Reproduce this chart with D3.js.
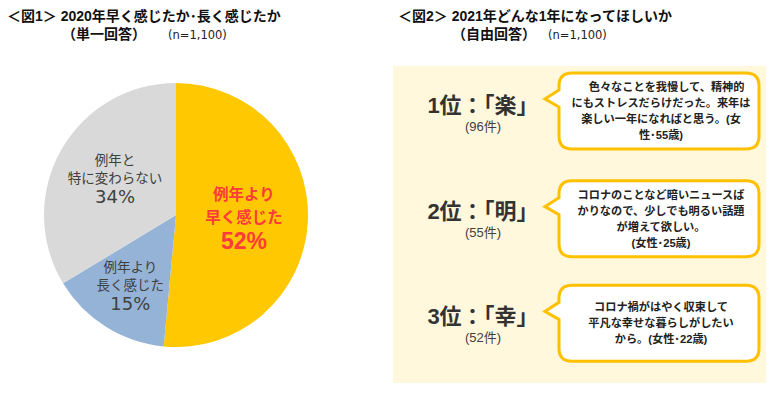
<!DOCTYPE html>
<html>
<head>
<meta charset="utf-8">
<script src="https://cdn.jsdelivr.net/npm/d3@7"></script>
<style>
  body { margin: 0; background: #fff; }
  svg { display: block; font-family: "Liberation Sans", "Noto Sans CJK JP", sans-serif; }
</style>
</head>
<body>
<div id="mainContainer"></div>
<script>
const pieLabels = [['例年より', '早く感じた'], ['例年より', '長く感じた'], ['例年と', '特に変わらない']];
const pieValues = [52, 15, 34];
const pieColors = ['#FFC800', '#95B3D7', '#D9D9D9'];

const rankTitles = ['1位：「楽」', '2位：「明」', '3位：「幸」'];
const rankCounts = [96, 55, 52];
const comments = [
  ['\u3000色々なことを我慢して、精神的', 'にもストレスだらけだった。来年は', '楽しい一年になればと思う。(女', '性･55歳)'],
  ['コロナのことなど暗いニュースば', 'かりなので、少しでも明るい話題', 'が増えて欲しい。', '(女性･25歳)'],
  ['コロナ禍がはやく収束して', '平凡な幸せな暮らしがしたい', 'から。(女性･22歳)']
];

const width = 780;
const height = 399;

const svg = d3.select('#mainContainer')
  .append('svg')
  .attr('width', width)
  .attr('height', height);

// titles
function title(x, line1, x2, line2, xn) {
  svg.append('text').attr('x', x).attr('y', 21)
    .attr('font-size', 14).attr('font-weight', 'bold').attr('fill', '#111')
    .text(line1);
  svg.append('text').attr('x', x2).attr('y', 39)
    .attr('font-size', 14).attr('font-weight', 'bold').attr('fill', '#111')
    .text(line2);
  svg.append('text').attr('x', xn).attr('y', 39)
    .attr('font-size', 11.5).attr('fill', '#222')
    .attr('font-family', 'DejaVu Sans')
    .text('(n=1,100)');
}
title(7, '＜図1＞ 2020年早く感じたか･長く感じたか', 62, '（単一回答）', 168);
title(398, '＜図2＞ 2021年どんな1年になってほしいか', 452, '（自由回答）', 548);

// PIE
const cx = 176, cy = 215, r = 132;
const pie = d3.pie().sort(null).value(d => d);
const arc = d3.arc().innerRadius(0).outerRadius(r);
const arcs = pie(pieValues);

const g = svg.append('g').attr('transform', `translate(${cx},${cy})`);
g.selectAll('path')
  .data(arcs)
  .join('path')
    .attr('d', arc)
    .attr('fill', (d, i) => pieColors[i]);

const labelR = [68, 86, 70];
arcs.forEach((d, i) => {
  const c = d3.arc().innerRadius(labelR[i]).outerRadius(labelR[i]).centroid(d);
  const big = i === 0;
  const t = g.append('text')
    .attr('text-anchor', 'middle')
    .attr('fill', big ? '#FF3B3B' : '#404040')
    .attr('font-weight', big ? 'bold' : 'normal');
  const lines = pieLabels[i];
  const fs = big ? 15.5 : 13.5;
  const lh = big ? 23 : 18;
  const y0 = c[1] - (big ? 18 : 16);
  lines.forEach((ln, j) => {
    t.append('tspan').attr('x', c[0]).attr('y', y0 + j * lh)
      .attr('font-size', fs).text(ln);
  });
  t.append('tspan').attr('x', c[0]).attr('y', y0 + lines.length * lh + (big ? 3 : 2))
    .attr('font-size', big ? 23 : 18)
    .attr('font-family', big ? 'Liberation Sans' : 'DejaVu Sans')
    .attr('font-weight', big ? 'bold' : 'normal')
    .text(pieValues[i] + '%');
});

// RIGHT PANEL
svg.append('rect')
  .attr('x', 393).attr('y', 66).attr('width', 373).attr('height', 317)
  .attr('fill', '#FFF8DC');

const row = d3.scaleBand()
  .domain(d3.range(rankTitles.length))
  .range([66, 383]);

function bubble(x0, y0, x1, y1, tipX, tipY) {
  const rr = 13;
  const p = d3.path();
  p.moveTo(x0 + rr, y0);
  p.lineTo(x1 - rr, y0);
  p.quadraticCurveTo(x1, y0, x1, y0 + rr);
  p.lineTo(x1, y1 - rr);
  p.quadraticCurveTo(x1, y1, x1 - rr, y1);
  p.lineTo(x0 + rr, y1);
  p.quadraticCurveTo(x0, y1, x0, y1 - rr);
  p.lineTo(x0, tipY + 8);
  p.lineTo(tipX, tipY);
  p.lineTo(x0, tipY - 9);
  p.lineTo(x0, y0 + rr);
  p.quadraticCurveTo(x0, y0, x0 + rr, y0);
  p.closePath();
  return p.toString();
}

rankTitles.forEach((t, i) => {
  const top = row(i);
  svg.append('text')
    .attr('x', 483).attr('y', top + 47)
    .attr('text-anchor', 'middle')
    .attr('font-size', 22).attr('font-weight', 'bold').attr('fill', '#333')
    .text(t);
  svg.append('text')
    .attr('x', 483).attr('y', top + 65)
    .attr('text-anchor', 'middle')
    .attr('font-size', 13).attr('fill', '#404040')
    .text(`(${rankCounts[i]}件)`);

  const by0 = top + 7 + (i === 2 ? 1 : 0) + (i === 1 ? 2 : 0);
  const by1 = by0 + 76;
  svg.append('path')
    .attr('d', bubble(559, by0, 759, by1, 545, by0 + 26))
    .attr('fill', '#fff')
    .attr('stroke', '#FFC000')
    .attr('stroke-width', 3);

  const lines = comments[i];
  const lh = 16;
  const mid = (by0 + by1) / 2;
  const start = mid - (lines.length - 1) * lh / 2 + 4;
  const tx = svg.append('text')
    .attr('text-anchor', 'middle')
    .attr('font-size', 11.2).attr('font-weight', 'bold').attr('fill', '#222');
  lines.forEach((ln, j) => {
    tx.append('tspan').attr('x', 661).attr('y', start + j * lh).text(ln);
  });
});
</script>
</body>
</html>
